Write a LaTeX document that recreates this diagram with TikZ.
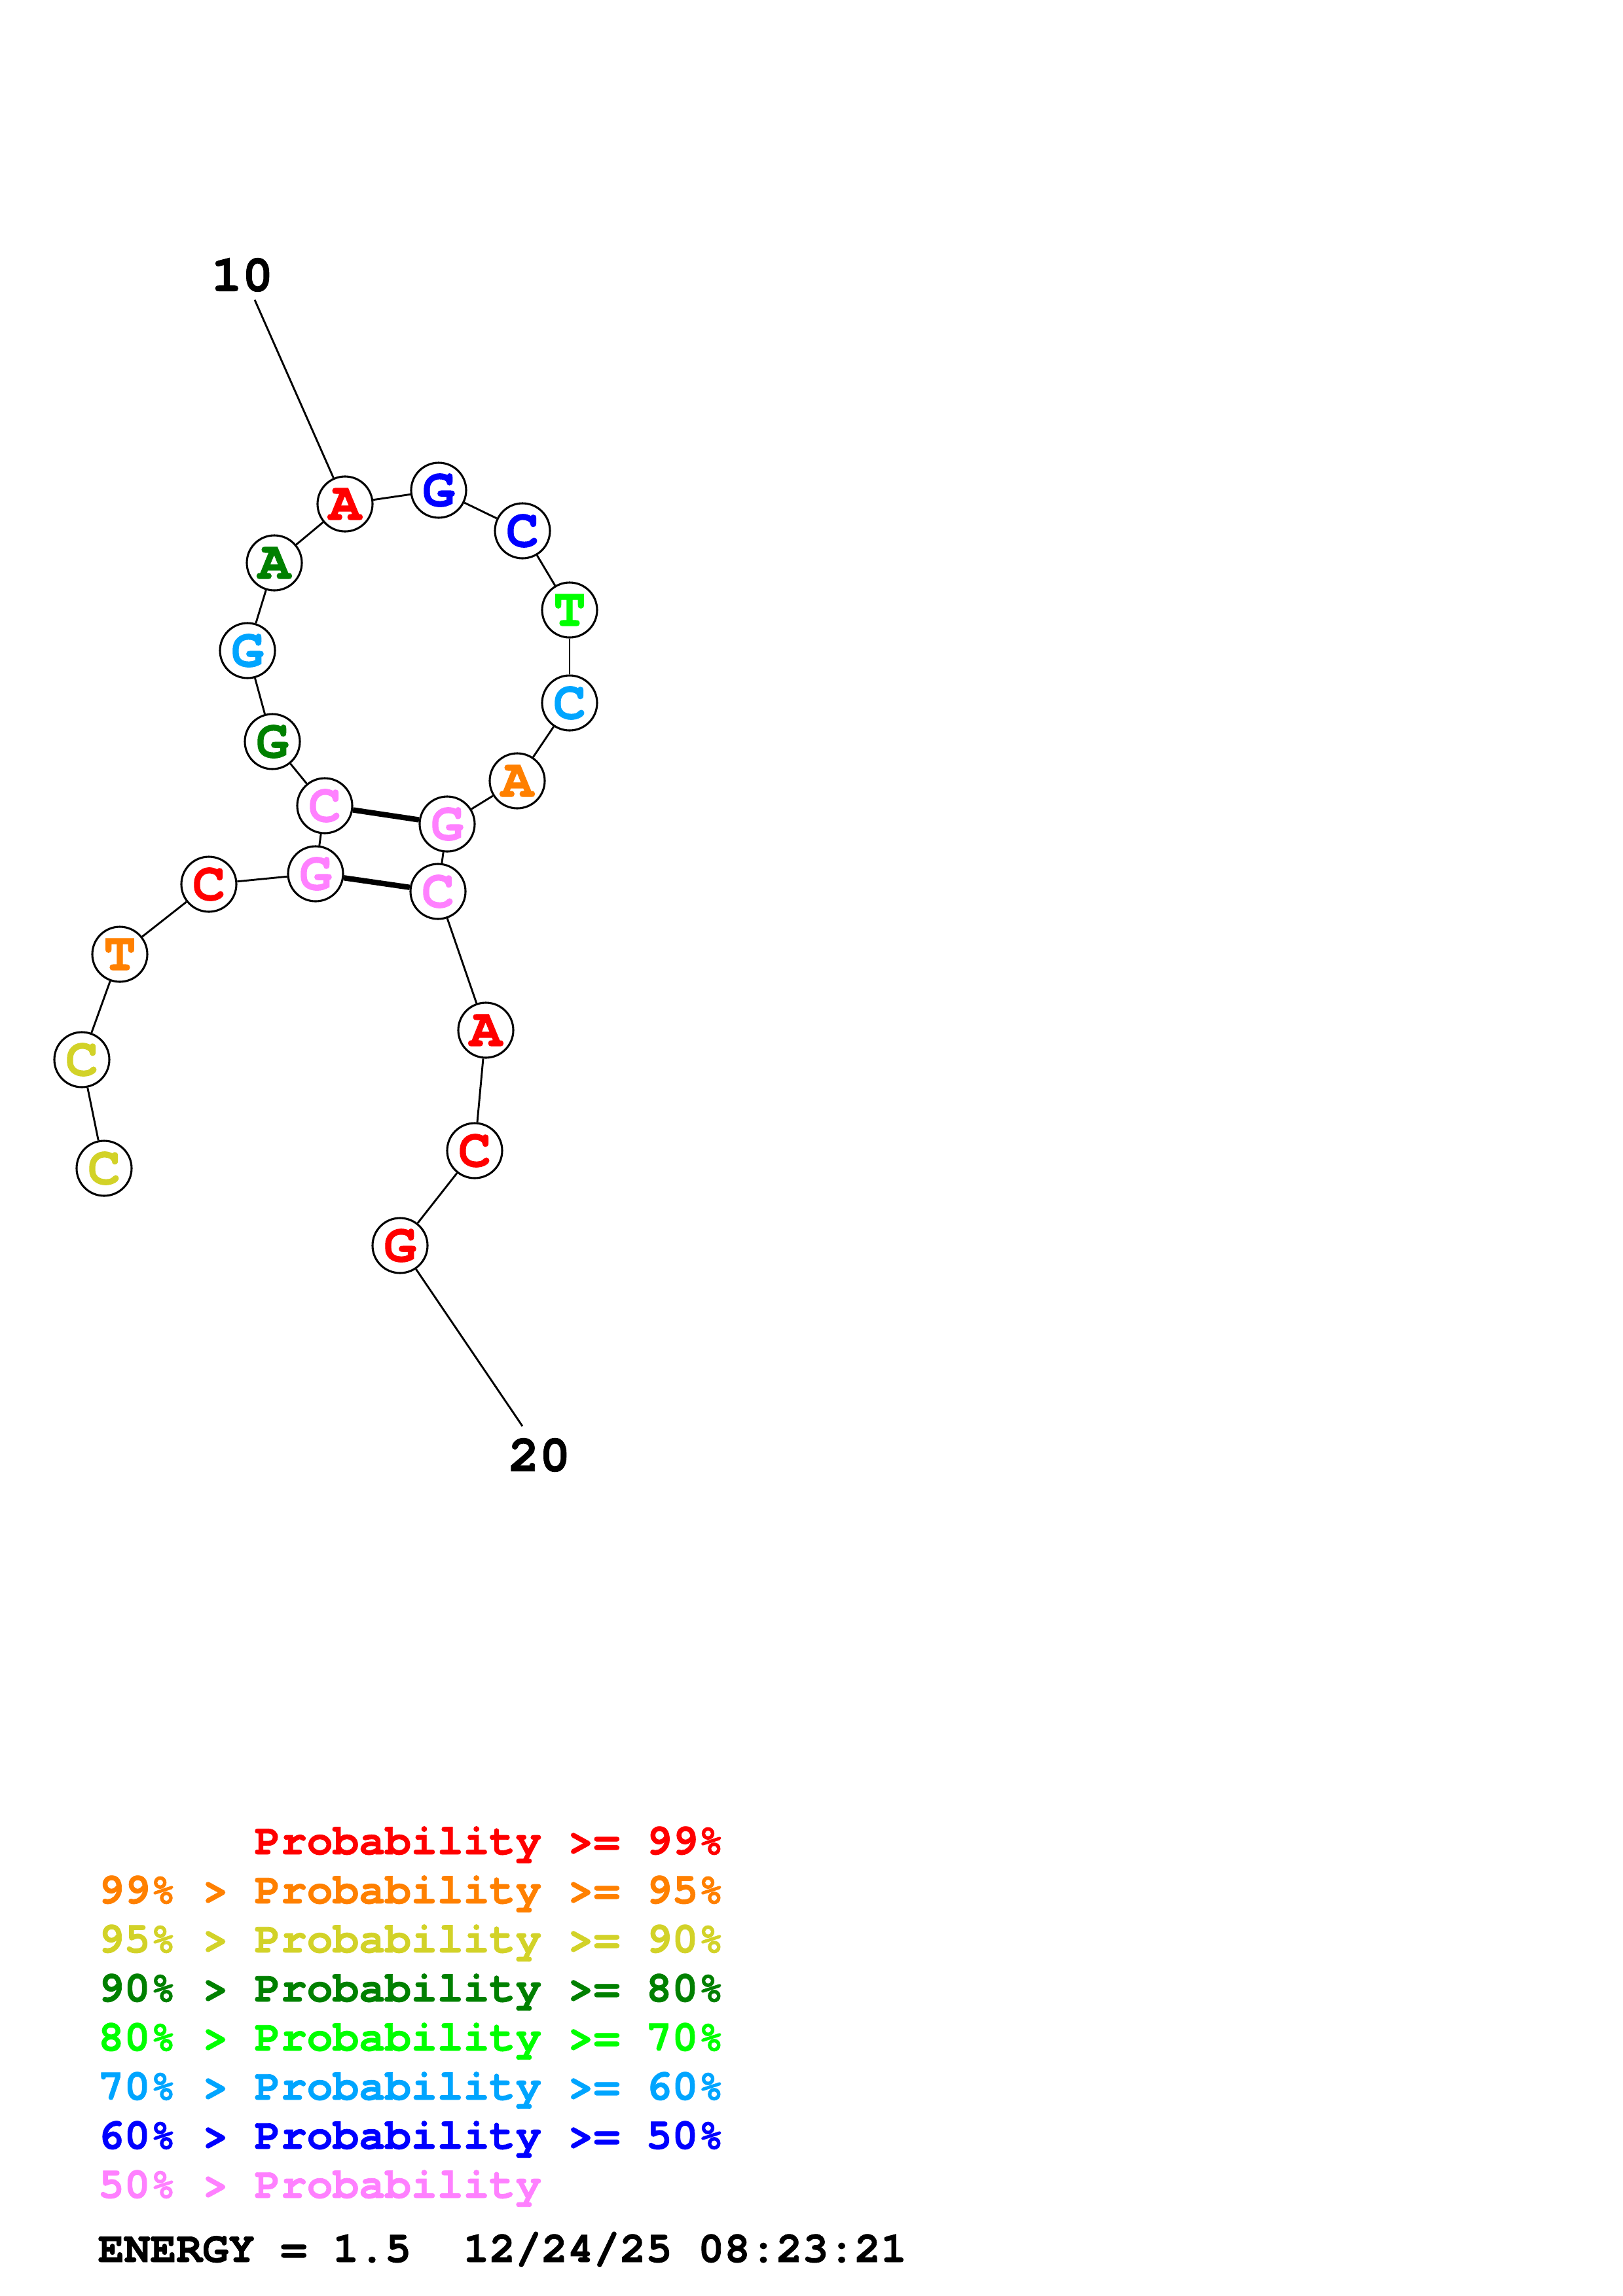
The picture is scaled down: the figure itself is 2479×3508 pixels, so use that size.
\documentclass[tikz,border=0pt]{standalone}
\usepackage{fontspec}
\newfontfamily\cour{TeX Gyre Cursor}[BoldFeatures={FakeBold=1.2}]
\definecolor{pred}{RGB}{255,0,0}
\definecolor{porange}{RGB}{255,128,0}
\definecolor{pyellow}{RGB}{210,210,40}
\definecolor{pdgreen}{RGB}{0,128,0}
\definecolor{plgreen}{RGB}{0,255,0}
\definecolor{plblue}{RGB}{0,165,255}
\definecolor{pblue}{RGB}{0,0,255}
\definecolor{ppink}{RGB}{255,128,255}
\tikzset{
  base/.style={circle,draw=black,line width=0.75pt,fill=white,minimum size=84*0.2409pt,inner sep=0pt,font=\cour\bfseries\fontsize{20}{20}\selectfont},
  bond/.style={line width=0.7pt},
  pair/.style={line width=2pt},
  numlbl/.style={font=\cour\bfseries\fontsize{19}{20}\selectfont,inner sep=0pt},
  leg/.style={anchor=base west,inner sep=0pt,font=\cour\bfseries\fontsize{16}{16}\selectfont}
}
\begin{document}
\begin{tikzpicture}[x=0.2409pt,y=-0.2409pt]
\useasboundingbox[fill=white] (0,0) rectangle (2479,3508);
% base nodes
\coordinate (n1) at (159,1785);
\coordinate (n2) at (125,1619);
\coordinate (n3) at (183,1458);
\coordinate (n4) at (319,1351);
\coordinate (n5) at (482,1335);
\coordinate (n6) at (496,1231);
\coordinate (n7) at (416,1133);
\coordinate (n8) at (378,994);
\coordinate (n9) at (419,860);
\coordinate (n10) at (527,770);
\coordinate (n11) at (670,749);
\coordinate (n12) at (798,811);
\coordinate (n13) at (870,932);
\coordinate (n14) at (870,1074);
\coordinate (n15) at (790,1193);
\coordinate (n16) at (683,1259);
\coordinate (n17) at (669,1362);
\coordinate (n18) at (742,1574);
\coordinate (n19) at (725,1758);
\coordinate (n20) at (611,1903);
\node[base,text=pyellow] (b1) at (n1) {C};
\node[base,text=pyellow] (b2) at (n2) {C};
\node[base,text=porange] (b3) at (n3) {T};
\node[base,text=pred] (b4) at (n4) {C};
\node[base,text=ppink] (b5) at (n5) {G};
\node[base,text=ppink] (b6) at (n6) {C};
\node[base,text=pdgreen] (b7) at (n7) {G};
\node[base,text=plblue] (b8) at (n8) {G};
\node[base,text=pdgreen] (b9) at (n9) {A};
\node[base,text=pred] (b10) at (n10) {A};
\node[base,text=pblue] (b11) at (n11) {G};
\node[base,text=pblue] (b12) at (n12) {C};
\node[base,text=plgreen] (b13) at (n13) {T};
\node[base,text=plblue] (b14) at (n14) {C};
\node[base,text=porange] (b15) at (n15) {A};
\node[base,text=ppink] (b16) at (n16) {G};
\node[base,text=ppink] (b17) at (n17) {C};
\node[base,text=pred] (b18) at (n18) {A};
\node[base,text=pred] (b19) at (n19) {C};
\node[base,text=pred] (b20) at (n20) {G};
% backbone
\foreach \a/\b in {1/2,2/3,3/4,4/5,5/6,6/7,7/8,8/9,9/10,10/11,11/12,12/13,13/14,14/15,15/16,16/17,17/18,18/19,19/20}
  \draw[bond] (b\a) -- (b\b);
% pairs
\draw[pair] (b6) -- (b16);
\draw[pair] (b5) -- (b17);
% number labels
\node[numlbl] (l10) at (370,420) {10};
\node[numlbl] (l20) at (824,2223) {20};
\coordinate (t10) at (389,458);
\coordinate (t20) at (798,2179);
\draw[bond] (t10) -- (b10);
\draw[bond] (b20) -- (t20);
% legend
\node[leg,text=pred] (g1) at (149,2833) {\phantom{99\% > }Probability >= 99\%};
\node[leg,text=porange] (g2) at (149,2908) {99\% > Probability >= 95\%};
\node[leg,text=pyellow] (g3) at (149,2983) {95\% > Probability >= 90\%};
\node[leg,text=pdgreen] (g4) at (149,3058) {90\% > Probability >= 80\%};
\node[leg,text=plgreen] (g5) at (149,3133) {80\% > Probability >= 70\%};
\node[leg,text=plblue] (g6) at (149,3208) {70\% > Probability >= 60\%};
\node[leg,text=pblue] (g7) at (149,3283) {60\% > Probability >= 50\%};
\node[leg,text=ppink] (g8) at (149,3358) {50\% > Probability};
\node[leg,text=black] (g9) at (149,3456) {ENERGY = 1.5\ \ 12/24/25 08:23:21};
\end{tikzpicture}
\end{document}
